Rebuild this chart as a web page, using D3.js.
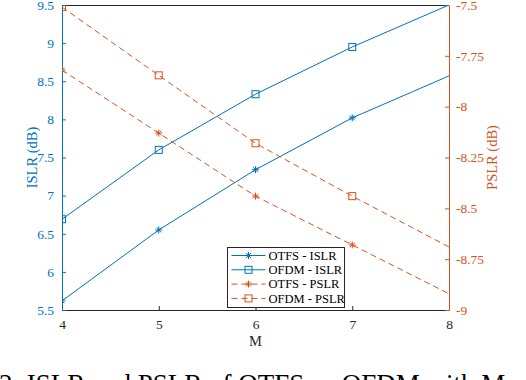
<!DOCTYPE html>
<html><head><meta charset="utf-8">
<script src="https://cdn.jsdelivr.net/npm/d3@7"></script>
<style>
body{margin:0;background:#fff;}
svg{display:block;font-family:"Liberation Serif","Times New Roman",serif;}
svg text{font-family:"Liberation Serif","Times New Roman",serif;}
</style></head>
<body>
<script>
const M = [4, 5, 6, 7, 8];
const otfsISLR = [5.62, 6.55, 7.34, 8.02, 8.57];
const ofdmISLR = [6.69, 7.60, 8.33, 8.95, 9.50];
const otfsPSLR = [-7.82, -8.13, -8.44, -8.68, -8.92];
const ofdmPSLR = [-7.51, -7.846, -8.18, -8.44, -8.69];
const markerCount = 4; // markers shown at M = 4..7
const xTicks = [4, 5, 6, 7, 8];
const leftTicks = [5.5, 6, 6.5, 7, 7.5, 8, 8.5, 9, 9.5];
const rightTicks = [-9, -8.75, -8.5, -8.25, -8, -7.75, -7.5];
const seriesNames = ["OTFS - ISLR", "OFDM - ISLR", "OTFS - PSLR", "OFDM - PSLR"];

const W = 526, H = 380;
const L = 62, R = 449, T = 5, B = 310;
const BLUE = "#0072BD", ORANGE = "#D95319", DARK = "#262626";

const svg = d3.select("body").append("svg").attr("width", W).attr("height", H);

const x = d3.scaleLinear().domain([4, 8]).range([L, R]);
const yL = d3.scaleLinear().domain([5.5, 9.5]).range([B, T]);
const yR = d3.scaleLinear().domain([-9, -7.5]).range([B, T]);

svg.append("defs").append("clipPath").attr("id", "clip")
  .append("rect").attr("x", L).attr("y", T).attr("width", R - L).attr("height", B - T);

// top border
svg.append("line").attr("x1", L).attr("x2", R).attr("y1", T + 0.5).attr("y2", T + 0.5)
  .attr("stroke", DARK).attr("stroke-width", 1);

// bottom axis
const xAxis = svg.append("g").attr("transform", `translate(0,${B})`)
  .call(d3.axisBottom(x).tickValues(xTicks).tickSizeInner(-4).tickSizeOuter(0).tickPadding(9).tickFormat(d => d));
xAxis.attr("font-family", null);
xAxis.select(".domain").attr("stroke", DARK);
xAxis.selectAll(".tick line").attr("stroke", DARK);
xAxis.selectAll("text").attr("fill", DARK).attr("font-size", 13.5);

// left axis
const lAxis = svg.append("g").attr("transform", `translate(${L},0)`)
  .call(d3.axisLeft(yL).tickValues(leftTicks).tickSizeInner(-4).tickSizeOuter(0).tickPadding(8).tickFormat(d => d));
lAxis.attr("font-family", null);
lAxis.select(".domain").attr("stroke", BLUE);
lAxis.selectAll(".tick line").attr("stroke", BLUE);
lAxis.selectAll("text").attr("fill", BLUE).attr("font-size", 13.5);

// right axis
const rAxis = svg.append("g").attr("transform", `translate(${R},0)`)
  .call(d3.axisRight(yR).tickValues(rightTicks).tickSizeInner(-4).tickSizeOuter(0).tickPadding(7).tickFormat(d => String(d)));
rAxis.attr("font-family", null);
rAxis.select(".domain").attr("stroke", ORANGE);
rAxis.selectAll(".tick line").attr("stroke", ORANGE);
rAxis.selectAll("text").attr("fill", ORANGE).attr("font-size", 13.5);

// axis labels
svg.append("text").attr("transform", `translate(36.5,${(T + B) / 2}) rotate(-90)`)
  .attr("text-anchor", "middle").attr("fill", BLUE).attr("font-size", 14.5).text("ISLR (dB)");
svg.append("text").attr("transform", `translate(497,${(T + B) / 2}) rotate(-90)`)
  .attr("text-anchor", "middle").attr("fill", ORANGE).attr("font-size", 14.5).text("PSLR (dB)");
svg.append("text").attr("x", (L + R) / 2).attr("y", 346).attr("text-anchor", "middle")
  .attr("fill", DARK).attr("font-size", 14.5).text("M");

// marker helpers
function asterisk(g, cx, cy, color, s) {
  const p = `M${cx - s},${cy}L${cx + s},${cy}M${cx},${cy - s}L${cx},${cy + s}` +
    `M${cx - s * 0.7},${cy - s * 0.7}L${cx + s * 0.7},${cy + s * 0.7}M${cx - s * 0.7},${cy + s * 0.7}L${cx + s * 0.7},${cy - s * 0.7}`;
  g.append("path").attr("d", p).attr("stroke", color).attr("stroke-width", 1).attr("fill", "none");
}
function square(g, cx, cy, color, s) {
  g.append("rect").attr("x", cx - s).attr("y", cy - s).attr("width", 2 * s).attr("height", 2 * s)
    .attr("stroke", color).attr("stroke-width", 1).attr("fill", "none");
}

const series = [
  { vals: otfsISLR, y: yL, color: BLUE, dash: null, marker: asterisk },
  { vals: ofdmISLR, y: yL, color: BLUE, dash: null, marker: square },
  { vals: otfsPSLR, y: yR, color: ORANGE, dash: "6,4", marker: asterisk },
  { vals: ofdmPSLR, y: yR, color: ORANGE, dash: "6,4", marker: square }
];

const plot = svg.append("g").attr("clip-path", "url(#clip)");
series.forEach(s => {
  const line = d3.line().x((d, i) => x(M[i])).y(d => s.y(d));
  plot.append("path").attr("d", line(s.vals)).attr("fill", "none")
    .attr("stroke", s.color).attr("stroke-width", 1).attr("stroke-dasharray", s.dash);
  s.vals.slice(0, markerCount).forEach((v, i) => s.marker(plot, x(M[i]), s.y(v), s.color, 3.5));
});

// legend
const lg = svg.append("g");
const lx = 227.5, ly = 247.5, lw = 117, lh = 60;
lg.append("rect").attr("x", lx).attr("y", ly).attr("width", lw).attr("height", lh)
  .attr("fill", "#fff").attr("stroke", DARK).attr("stroke-width", 1);
series.forEach((s, i) => {
  const cy = ly + 8 + i * 14.3;
  lg.append("line").attr("x1", lx + 4).attr("x2", lx + 38).attr("y1", cy).attr("y2", cy)
    .attr("stroke", s.color).attr("stroke-width", 1).attr("stroke-dasharray", s.dash);
  s.marker(lg, lx + 21, cy, s.color, 3.5);
  lg.append("text").attr("x", lx + 41).attr("y", cy + 4.3).attr("fill", "#000")
    .attr("font-size", 12.5).text(seriesNames[i]);
});

// caption (cut off by the window, as in the reference)
svg.append("text").attr("x", -1).attr("y", 393).attr("fill", "#000")
  .attr("font-size", 27).text("2: ISLR and PSLR of OTFS vs OFDM with M");
</script>
</body></html>
